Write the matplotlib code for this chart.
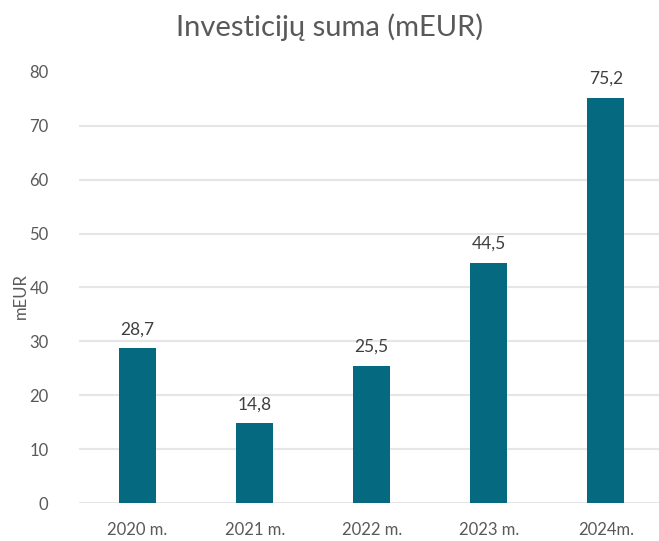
import matplotlib.pyplot as plt

plt.rcParams['font.family'] = ['Lato', 'DejaVu Sans']

# data
years = ['2020 m.', '2021 m.', '2022 m.', '2023 m.', '2024m.']
values = [28.7, 14.8, 25.5, 44.5, 75.2]
labels = ['28,7', '14,8', '25,5', '44,5', '75,2']

bar_color = '#05697f'
text_gray = '#595959'

fig = plt.figure(figsize=(6.59, 5.41), dpi=100)
ax = fig.add_axes([0.12, 0.0702, 0.888, 0.797])

x = range(len(years))
bars = ax.bar(x, values, width=0.315, color=bar_color, zorder=3)

# value labels above the bars
for b, lab in zip(bars, labels):
    ax.annotate(lab, (b.get_x() + b.get_width() / 2, b.get_height()),
                xytext=(0, 8), textcoords='offset points',
                ha='center', va='bottom', fontsize=12.5, color='#404040')

ax.set_xlim(-0.5, len(years) - 0.5)
ax.set_ylim(0, 80)
ax.set_yticks(range(0, 81, 10))
ax.set_xticks(list(x))
ax.set_xticklabels(years)

ax.grid(axis='y', color='#e6e6e6', linewidth=1.5, zorder=0)
ax.get_ygridlines()[-1].set_visible(False)
ax.tick_params(axis='both', length=0, labelsize=12, labelcolor=text_gray)
ax.tick_params(axis='x', pad=14)
ax.tick_params(axis='y', pad=22)

for s in ax.spines.values():
    s.set_visible(False)

ax.set_ylabel('mEUR', fontsize=12, color=text_gray)
ax.yaxis.set_label_coords(-0.085, 0.48)
fig.suptitle('Investicijų suma (mEUR)', fontsize=21, color=text_gray, y=0.975)

plt.savefig('out.png', dpi=100)
